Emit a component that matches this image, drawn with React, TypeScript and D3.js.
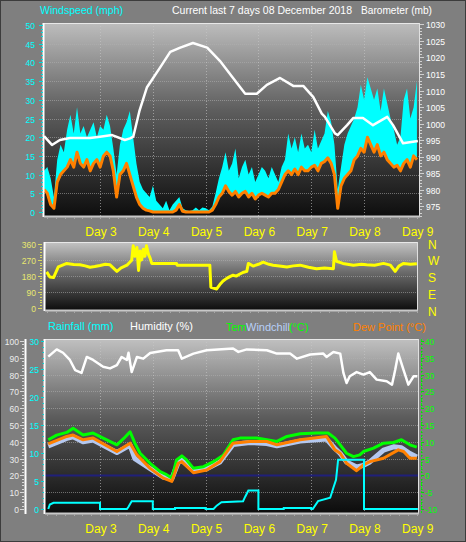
import React from "react";
import * as d3 from "d3";

// ---- data ----
const DAYS = [3, 4, 5, 6, 7, 8, 9];

// wind samples every 1.5 h starting at day 1.94
const WIND_START = 1.94;
const WIND_STEP = 1 / 16;
const windGust = [
  11, 12, 9, 4, 14, 18, 16, 22, 26, 21,
  28, 21, 23, 20, 22, 24, 20, 23, 22, 26,
  23, 17, 10, 18, 22, 24, 27, 20, 13, 8,
  6, 5, 4, 7, 3, 2, 1, 3, 0.5, 2,
  3, 4, 1, 0.5, 0.3, 0.5, 1.2, 0.5, 1.2, 1,
  0.5, 1.5, 5, 9, 12, 16, 11, 13, 17, 9,
  12, 14, 10, 12, 8, 10, 12, 11, 9, 12,
  10, 8, 12, 14, 21, 17, 20, 16, 21, 17,
  18, 16, 22, 17, 19, 21, 27, 24, 18, 6,
  12, 18, 21, 23, 25, 28, 34, 30, 36, 33,
  30, 33, 27, 33, 29, 25, 22, 18, 20, 30,
  33, 25, 28, 35,
];
const windAvg = [
  6, 5, 2, 1, 8, 10, 11, 12, 14, 12,
  16, 13, 12, 14, 11, 13, 14, 12, 15, 16,
  15, 11, 4, 10, 11, 13, 10, 7, 4, 2,
  1, 0.5, 0.3, 0, 0, 0, 0, 0, 0, 0,
  0.5, 2, 0.2, 0, 0, 0, 0, 0, 0, 0,
  0, 0.5, 2, 4, 5, 7, 5.5, 4.5, 5.5, 4,
  5, 5.5, 4, 5, 3.5, 4.5, 5, 4.5, 4, 5,
  5, 6, 8, 10, 11, 10, 11.5, 10, 12, 11,
  11, 12, 12.5, 11, 13, 13.5, 14.5, 13, 10, 1,
  7, 9, 10, 11, 14, 15, 17, 16, 20, 18,
  16, 18, 15, 16, 14, 13, 12, 12.5, 11, 13,
  14, 12, 15, 14,
];

const baroTime = [1.94, 2.09, 2.24, 2.43, 2.81, 3.0, 3.23, 3.47, 3.57, 3.63, 3.75, 3.89, 4.14, 4.33, 4.52, 4.76, 5.03, 5.27, 5.52, 5.75, 5.97, 6.16, 6.41, 6.66, 6.85, 7.04, 7.2, 7.26, 7.45, 7.5, 7.68, 7.8, 7.98, 8.17, 8.44, 8.55, 8.74, 9.02];
const baroValue = [996.2, 993.5, 995, 995.6, 995.6, 996, 996.5, 995, 995.5, 996, 1004, 1011, 1017, 1021.7, 1023, 1024.4, 1023, 1019, 1013.8, 1009, 1009, 1011.7, 1013.8, 1011.4, 1011.4, 1008, 1003, 1002, 997, 996.5, 999.5, 1001.7, 1001.7, 999.5, 1002, 999.5, 994, 994.7];

const dirTime = [1.99, 2.05, 2.12, 2.21, 2.37, 2.5, 2.62, 2.72, 2.81, 2.9, 3.0, 3.1, 3.19, 3.32, 3.4, 3.51, 3.6, 3.63, 3.66, 3.7, 3.73, 3.76, 3.79, 3.82, 3.85, 3.88, 3.92, 3.95, 3.98, 4.45, 4.46, 5.08, 5.1, 5.21, 5.27, 5.33, 5.4, 5.46, 5.52, 5.58, 5.65, 5.72, 5.78, 5.81, 5.9, 6.0, 6.09, 6.2, 6.28, 6.4, 6.54, 6.66, 6.79, 6.95, 7.1, 7.25, 7.42, 7.44, 7.48, 7.6, 7.8, 7.95, 8.05, 8.2, 8.37, 8.5, 8.59, 8.66, 8.75, 8.88, 9.0];
const dirValue = [202, 173, 170, 230, 250, 244, 242, 236, 228, 232, 238, 245, 242, 205, 225, 240, 268, 350, 290, 340, 210, 320, 270, 330, 290, 350, 300, 280, 250, 250, 240, 240, 115, 105, 130, 150, 165, 175, 183, 178, 190, 200, 205, 250, 235, 245, 257, 245, 240, 235, 230, 236, 240, 228, 220, 224, 220, 316, 262, 250, 240, 245, 242, 240, 250, 240, 205, 235, 250, 245, 248];

const humTime = [2.02, 2.18, 2.3, 2.43, 2.53, 2.65, 2.75, 2.87, 3.06, 3.19, 3.32, 3.41, 3.51, 3.54, 3.6, 3.7, 3.82, 3.95, 4.26, 4.48, 4.55, 4.77, 5.02, 5.52, 5.62, 5.78, 6.16, 6.35, 6.6, 6.73, 6.98, 7.23, 7.29, 7.42, 7.55, 7.61, 7.67, 7.73, 7.86, 7.99, 8.11, 8.24, 8.43, 8.53, 8.59, 8.65, 8.75, 8.84, 8.94, 9.01];
const humValue = [90.7, 95, 93, 88.7, 82.7, 81, 90.5, 88.7, 84.7, 83.7, 85.7, 90.5, 88.7, 93, 81.5, 90.5, 89.5, 92.9, 94.5, 94.5, 89.5, 92.5, 94.5, 95.5, 93.5, 95, 94.5, 92.5, 92.5, 89.5, 92, 92.5, 90.5, 93.5, 92.5, 81, 75, 79, 81.5, 80, 81.5, 77, 76, 74, 82.7, 92.5, 82.7, 74, 79, 79];

const tempTime = [2.02, 2.18, 2.37, 2.49, 2.68, 2.87, 3.06, 3.32, 3.45, 3.57, 3.66, 3.76, 3.95, 4.14, 4.26, 4.36, 4.45, 4.55, 4.64, 4.77, 4.96, 5.15, 5.34, 5.52, 5.65, 5.97, 6.16, 6.35, 6.54, 6.79, 7.1, 7.32, 7.45, 7.55, 7.67, 7.8, 7.92, 7.99, 8.18, 8.37, 8.56, 8.71, 8.87, 9.0];
const tempValue = [10.6, 12, 12.8, 14, 12, 12.6, 11.1, 9.1, 11, 13, 9.6, 6.6, 3.6, 1.1, 0.2, -0.8, 4.6, 5.8, 4.6, 2.1, 2.6, 4.1, 6.1, 10.6, 11.1, 11.1, 10.6, 10.1, 11.6, 12.4, 12.6, 12.6, 11.1, 9.1, 6.6, 5.6, 6.1, 7.1, 8.1, 9.6, 9.8, 10.6, 9.1, 8.4];

const dewTime = [2.02, 2.37, 2.49, 2.68, 2.87, 3.32, 3.57, 3.7, 3.95, 4.2, 4.36, 4.48, 4.55, 4.77, 5.02, 5.27, 5.52, 5.84, 6.16, 6.35, 6.79, 7.29, 7.45, 7.55, 7.67, 7.86, 7.99, 8.11, 8.37, 8.65, 8.75, 8.87, 9.0];
const dewValue = [9.4, 11.6, 12, 10.6, 11.1, 7.1, 9.6, 6.1, 2.1, -0.8, -1.8, 3.6, 4.1, 0.8, 1.6, 4.1, 9.6, 10.1, 10.1, 9.1, 10.6, 11.6, 7.6, 6.6, 3.6, 1.4, 3.1, 4.1, 5.1, 7.6, 7.1, 5.1, 5.1];

const chillTime = [2.02, 2.37, 2.49, 2.68, 2.87, 3.32, 3.57, 3.66, 3.95, 4.2, 4.36, 4.48, 4.55, 4.77, 5.02, 5.27, 5.52, 5.84, 6.16, 6.35, 6.79, 7.29, 7.45, 7.55, 7.67, 7.86, 7.99, 8.11, 8.37, 8.56, 8.71, 8.87, 9.0];
const chillValue = [8.8, 11, 11.5, 10, 10.5, 6.8, 9, 5, 2, -0.5, -1, 3.8, 4.5, 1.5, 2, 4, 9.2, 9.8, 9.5, 8.8, 10.2, 10.8, 8, 6.5, 4, 2.5, 3, 4, 7.5, 8.5, 8.2, 6.5, 5.5];

const rainTime = [2.02, 2.05, 2.12, 3.0, 3.0, 3.51, 3.54, 3.6, 4.0, 4.0, 4.42, 4.42, 5.0, 5.0, 5.15, 5.21, 5.3, 5.71, 5.75, 5.81, 6.0, 6.0, 6.48, 6.48, 7.0, 7.0, 7.03, 7.13, 7.36, 7.42, 7.47, 7.51, 8.0, 8.0, 9.02];
const rainValue = [0, 0.8, 1.1, 1.1, 0, 0, 0.4, 1.4, 1.4, 0, 0, 0.2, 0.2, 0, 0, 0.6, 1.2, 1.4, 2.2, 3.3, 3.3, 0, 0, 0.2, 0.2, 0, 0, 1.4, 2.0, 3.8, 5.2, 8.8, 8.8, 0, 0];

const compass = ["N", "W", "S", "E", "N "];

// ---- layout ----
const W = 466;
const H = 542;
const FONT = "'Liberation Sans', Arial, sans-serif";
const top = { x0: 44, x1: 419, y0: 23, y1: 216 };
const mid = { x0: 45, x1: 417, y0: 242, y1: 310 };
const bot = { x0: 45, x1: 418, y0: 339, y1: 513 };

const x = d3.scaleLinear().domain([2, 9]).range([47.2, 416.8]);
const wind = d3.scaleLinear().domain([0, 50]).range([212, 25]);
const baro = d3.scaleLinear().domain([975, 1025]).range([206, 41]);
const dir = d3.scaleLinear().domain([0, 360]).range([307.5, 244]);
const compassY = d3.scalePoint<string>().domain(compass).range([244, 311]);
const hum = d3.scaleLinear().domain([0, 100]).range([509, 341]);
const rain = d3.scaleLinear().domain([0, 30]).range([509, 341]);
const temp = d3.scaleLinear().domain([-10, 40]).range([509, 341]);

function Ticks({ scale, from, to, step, major, xPos, color, label, labelX, labelColor, anchor = "end", minorLen = 2, majorLen = 4, dir: side = -1 }: any) {
  const vals = d3.range(from, to + step / 2, step);
  return (
    <g>
      {vals.map((v: number) => {
        const isMajor = Math.abs(v / major - Math.round(v / major)) < 1e-6;
        const len = isMajor ? majorLen : minorLen;
        const y = Math.round(scale(v)) + 0.5;
        return (
          <g key={v}>
            <line x1={xPos} x2={xPos + side * len} y1={y} y2={y} stroke={color} strokeWidth={1} />
            {isMajor && label && (
              <text x={labelX} y={y + 3} fill={labelColor || color} fontSize={8.5} textAnchor={anchor} fontFamily={FONT}>
                {v}
              </text>
            )}
          </g>
        );
      })}
    </g>
  );
}

function Panel({ p, id, hLines, vLines }: any) {
  return (
    <g>
      <rect x={p.x0} y={p.y0} width={p.x1 - p.x0} height={p.y1 - p.y0} fill={`url(#${id})`} />
      {hLines.map((y: number, i: number) => (
        <line key={"h" + i} x1={p.x0} x2={p.x1} y1={Math.round(y) + 0.5} y2={Math.round(y) + 0.5} stroke="#b0b0b0" strokeOpacity={0.55} strokeDasharray="1,1" />
      ))}
      {vLines &&
        DAYS.slice(0, -1).map((d) => (
          <line key={"v" + d} x1={Math.round(x(d)) + 0.5} x2={Math.round(x(d)) + 0.5} y1={p.y0} y2={p.y1} stroke="#c8c8c8" strokeOpacity={0.6} strokeDasharray="1,2" />
        ))}
    </g>
  );
}

function Frame({ p }: any) {
  const ticks = d3.range(2, 9.01, 1 / 6);
  return (
    <g>
      <line x1={p.x0} x2={p.x1} y1={p.y0 + 0.5} y2={p.y0 + 0.5} stroke="#e8e8e8" />
      <line x1={p.x0 - 0.5} x2={p.x0 - 0.5} y1={p.y0} y2={p.y1 + 1} stroke="#ffffff" strokeWidth={2} />
      <line x1={p.x1 + 0.5} x2={p.x1 + 0.5} y1={p.y0} y2={p.y1} stroke="#e0e0e0" />
      <line x1={p.x0} x2={p.x1 + 1} y1={p.y1 + 0.5} y2={p.y1 + 0.5} stroke="#c8c8c8" strokeWidth={2} />
      {ticks.map((t, i) => (
        <line key={i} x1={Math.round(x(t)) + 0.5} x2={Math.round(x(t)) + 0.5} y1={p.y1 + 1} y2={p.y1 + 3} stroke="#a8a8a8" />
      ))}
    </g>
  );
}

export default function App() {
  const windT = (i: number) => WIND_START + i * WIND_STEP;
  const gustArea = d3
    .area<number>()
    .x((_, i) => x(windT(i)))
    .y0((_, i) => wind(windAvg[i]))
    .y1((d) => wind(d));
  const avgLine = d3
    .line<number>()
    .x((_, i) => x(windT(i)))
    .y((d) => wind(d));
  const series = (ts: number[], ys: number[], sc: any) =>
    d3.line<number>().x((_, i) => x(ts[i])).y((d) => sc(d))(ys) || "";

  const clip = (p: any, id: string) => (
    <clipPath id={id}>
      <rect x={p.x0} y={p.y0} width={p.x1 - p.x0} height={p.y1 - p.y0} />
    </clipPath>
  );
  const grad = (id: string, c0: string, c1: string, c2: string) => (
    <linearGradient id={id} x1="0" y1="0" x2="0" y2="1">
      <stop offset="0%" stopColor={c0} />
      <stop offset="45%" stopColor={c1} />
      <stop offset="100%" stopColor={c2} />
    </linearGradient>
  );

  return (
    <svg width={W} height={H} style={{ position: "absolute", left: 0, top: 0, display: "block" }} fontFamily={FONT}>
      <defs>
        {grad("bgTop", "#bdbdbd", "#5e5e5e", "#0e0e0e")}
        {grad("bgMid", "#c4c4c4", "#6a6a6a", "#0e0e0e")}
        {grad("bgBot", "#c0c0c0", "#5c5c5c", "#0c0c0c")}
        {clip(top, "cTop")}
        {clip(mid, "cMid")}
        {clip(bot, "cBot")}
      </defs>
      <rect x={0.5} y={0.5} width={W - 1} height={H - 1} fill="#7f7f7f" stroke="#3c3c3c" />

      {/* header */}
      <text x={40} y={14} fill="#00ffff" fontSize={11} textLength={83} lengthAdjust="spacingAndGlyphs">Windspeed (mph)</text>
      <text x={172} y={14} fill="#ffffff" fontSize={11} textLength={180} lengthAdjust="spacingAndGlyphs">Current last 7 days 08 December 2018</text>
      <text x={361} y={14} fill="#ffffff" fontSize={11} textLength={71} lengthAdjust="spacingAndGlyphs">Barometer (mb)</text>

      {/* top panel */}
      <Panel p={top} id="bgTop" hLines={d3.range(5, 50, 5).map((v) => wind(v))} vLines />
      <g clipPath="url(#cTop)">
        <path d={gustArea(windGust) || ""} fill="#00ffff" />
        <path d={avgLine(windAvg) || ""} fill="none" stroke="#ff8000" strokeWidth={3} strokeLinejoin="round" />
        <path d={series(baroTime, baroValue, baro)} fill="none" stroke="#ffffff" strokeWidth={2.5} strokeLinejoin="round" />
      </g>
      <Frame p={top} />
      <Ticks scale={wind} from={0} to={50} step={1} major={5} xPos={43} color="#00e0e0" label labelX={35} labelColor="#00ffff" />
      <Ticks scale={baro} from={972} to={1030} step={1} major={5} xPos={420} color="#d0d0d0" label labelX={426} labelColor="#ffffff" anchor="start" dir={1} />
      {DAYS.map((d) => (
        <text key={d} x={x(d) + 1} y={236} fill="#ffff00" fontSize={12} textAnchor="middle">
          Day {d}
        </text>
      ))}

      {/* middle panel: wind direction */}
      <Panel p={mid} id="bgMid" hLines={[90, 180, 270].map((v) => dir(v))} />
      <g clipPath="url(#cMid)">
        <path d={series(dirTime, dirValue, dir)} fill="none" stroke="#ffff00" strokeWidth={3} strokeLinejoin="round" />
      </g>
      <Frame p={mid} />
      <Ticks scale={dir} from={0} to={360} step={15} major={90} xPos={42} color="#d8d860" label labelX={36} labelColor="#e8e870" />
      {compass.map((c) => (
        <text key={c} x={428} y={(compassY(c) || 0) + 4.5} fill="#ffff00" fontSize={12}>
          {c.trim()}
        </text>
      ))}

      {/* bottom legend */}
      <text x={48} y={330} fill="#00ffff" fontSize={11}>Rainfall (mm)</text>
      <text x={130} y={330} fill="#ffffff" fontSize={11}>Humidity (%)</text>
      <text x={226} y={331} fill="#00ff00" fontSize={11}>Tem</text>
      <text x={246} y={331} fill="#b8d0f8" fontSize={11}>Windchill</text>
      <text x={289} y={331} fill="#00ff00" fontSize={11}>(°C)</text>
      <text x={353} y={331} fill="#ff8000" fontSize={11}>Dew Point (°C)</text>

      {/* bottom panel */}
      <Panel p={bot} id="bgBot" hLines={d3.range(10, 100, 10).map((v) => hum(v))} vLines />
      <g clipPath="url(#cBot)">
        <line x1={bot.x0} x2={bot.x1} y1={temp(0)} y2={temp(0)} stroke="#20207a" strokeWidth={2} />
        <path d={series(humTime, humValue, hum)} fill="none" stroke="#ffffff" strokeWidth={2.5} strokeLinejoin="round" />
        <path d={series(chillTime, chillValue, temp)} fill="none" stroke="#b4c8f0" strokeWidth={5} strokeLinejoin="round" />
        <path d={series(tempTime, tempValue, temp)} fill="none" stroke="#00ff00" strokeWidth={3} strokeLinejoin="round" />
        <path d={series(dewTime, dewValue, temp)} fill="none" stroke="#ff8000" strokeWidth={3} strokeLinejoin="round" />
        <path d={series(rainTime, rainValue, rain)} fill="none" stroke="#00ffff" strokeWidth={2} />
      </g>
      <Frame p={bot} />
      <line x1={25.5} x2={25.5} y1={bot.y0} y2={bot.y1 + 1} stroke="#ffffff" strokeWidth={2} />
      <Ticks scale={hum} from={0} to={100} step={2} major={10} xPos={24} color="#d8d8d8" label labelX={19} labelColor="#ececec" />
      <Ticks scale={rain} from={0} to={30} step={1} major={5} xPos={44} color="#00d8d8" label labelX={39} labelColor="#00ffff" minorLen={1.5} majorLen={3} />
      <line x1={421.5} x2={421.5} y1={bot.y0} y2={bot.y1} stroke="#00ff00" strokeDasharray="2,2" />
      <Ticks scale={temp} from={-10} to={40} step={1} major={5} xPos={421} color="#00e000" label labelX={425} labelColor="#00ff00" anchor="start" dir={1} minorLen={1.5} majorLen={3} />
      {DAYS.map((d) => (
        <text key={"b" + d} x={x(d) + 1} y={533} fill="#ffff00" fontSize={12} textAnchor="middle">
          Day {d}
        </text>
      ))}
    </svg>
  );
}
